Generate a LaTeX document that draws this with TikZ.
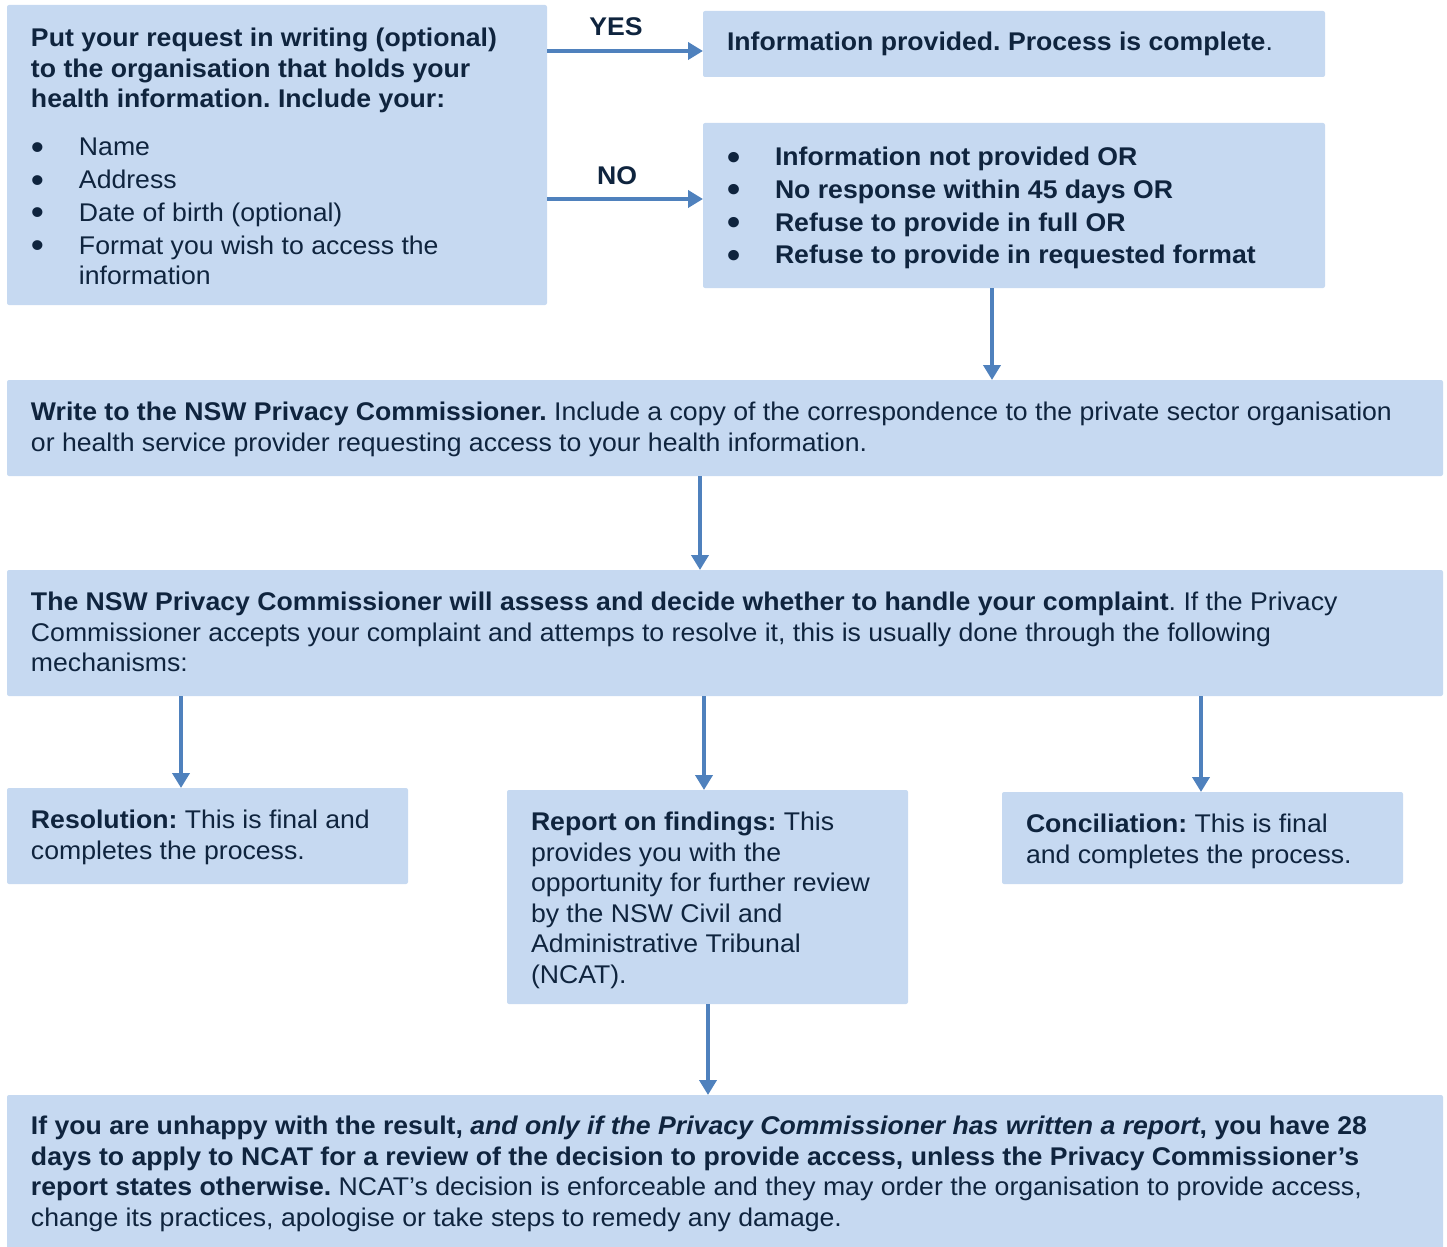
\documentclass[tikz,border=0pt]{standalone}
\usepackage{fontspec}
\setmainfont[FakeStretch=1.04]{Liberation Sans}
\usetikzlibrary{arrows.meta,fit}
\definecolor{boxfill}{RGB}{198,217,241}
\definecolor{navy}{RGB}{15,36,62}
\definecolor{arrowblue}{RGB}{79,129,189}
\newcommand\bul{\makebox[24pt][l]{\raisebox{-1.8pt}{\fontsize{18}{18}\selectfont\textbullet}}}
\newcommand\ind{\hspace*{24pt}}
\frenchspacing
\begin{document}
\begin{tikzpicture}[x=0.5pt,y=-0.5pt,
  box/.style={fill=boxfill,draw=none,inner sep=0pt,outer sep=0pt,rounded corners=1pt},
  txt/.style={inner sep=0pt,outer sep=0pt,align=left,anchor=north west,text=navy,
    font=\fontsize{12.8}{15.3}\selectfont\frenchspacing},
  lbl/.style={inner sep=0pt,text=navy,font=\fontsize{12.8}{15.3}\selectfont\bfseries},
  arr/.style={draw=arrowblue,line width=2pt,-{Triangle[length=7.5pt,width=8.5pt]}}]
\useasboundingbox (0,0) rectangle (1447,1247);
% boxes
\node[box,fit={(7,5) (547,305)}] (boxA) {};
\node[box,fit={(703,11) (1325,77)}] (yesbox) {};
\node[box,fit={(703,123) (1325,288)}] (nobox) {};
\node[box,fit={(7,380) (1443,476)}] (write) {};
\node[box,fit={(7,570) (1443,696)}] (assess) {};
\node[box,fit={(7,788) (408,884)}] (resol) {};
\node[box,fit={(507,790) (908,1004)}] (report) {};
\node[box,fit={(1002,792) (1403,884)}] (concil) {};
\node[box,fit={(7,1095) (1443,1250)}] (final) {};
% texts
\node[txt] (tA) at (31,28) {\textbf{Put your request in writing (optional)}\\
\textbf{to the organisation that holds your}\\
\textbf{health information. Include your:}\\[8.7pt]
\bul Name\\[1.1pt]
\bul Address\\[1.1pt]
\bul Date of birth (optional)\\[1.1pt]
\bul Format you wish to access the\\
\ind information};
\node[txt] (tyes) at (727,32) {\textbf{Information provided. Process is complete}.};
\node[txt] (tno) at (727,147) {\bfseries\bul Information not provided OR\\[1.1pt]
\bfseries\bul No response within 45 days OR\\[1.1pt]
\bfseries\bul Refuse to provide in full OR\\[1.1pt]
\bfseries\bul Refuse to provide in requested format};
\node[txt] (twrite) at (31,402) {\textbf{Write to the NSW Privacy Commissioner.} Include a copy of the correspondence to the private sector organisation\\
or health service provider requesting access to your health information.};
\node[txt] (tassess) at (31,592) {\textbf{The NSW Privacy Commissioner will assess and decide whether to handle your complaint}. If the Privacy\\
Commissioner accepts your complaint and attemps to resolve it, this is usually done through the following\\
mechanisms:};
\node[txt] (tresol) at (31,810) {\textbf{Resolution:} This is final and\\
completes the process.};
\node[txt] (treport) at (531,812) {\textbf{Report on findings:} This\\
provides you with the\\
opportunity for further review\\
by the NSW Civil and\\
Administrative Tribunal\\
(NCAT).};
\node[txt] (tconcil) at (1026,814) {\textbf{Conciliation:} This is final\\
and completes the process.};
\node[txt] (tfinal) at (31,1116) {\textbf{If you are unhappy with the result, \textit{and only if the Privacy Commissioner has written a report}, you have 28}\\
\textbf{days to apply to NCAT for a review of the decision to provide access, unless the Privacy Commissioner’s}\\
\textbf{report states otherwise.} NCAT’s decision is enforceable and they may order the organisation to provide access,\\
change its practices, apologise or take steps to remedy any damage.};
% labels
\node[lbl] (lyes) at (616,27) {YES};
\node[lbl] (lno) at (617,176) {NO};
% connectors
\draw[arr] (boxA.east |- 0,51) -- (yesbox.west |- 0,51);
\draw[arr] (boxA.east |- 0,199) -- (nobox.west |- 0,199);
\draw[arr] (nobox.south -| 992,0) -- (write.north -| 992,0);
\draw[arr] (write.south -| 700,0) -- (assess.north -| 700,0);
\draw[arr] (assess.south -| 181,0) -- (resol.north -| 181,0);
\draw[arr] (assess.south -| 704,0) -- (report.north -| 704,0);
\draw[arr] (assess.south -| 1201,0) -- (concil.north -| 1201,0);
\draw[arr] (report.south -| 708,0) -- (final.north -| 708,0);
\end{tikzpicture}
\end{document}
